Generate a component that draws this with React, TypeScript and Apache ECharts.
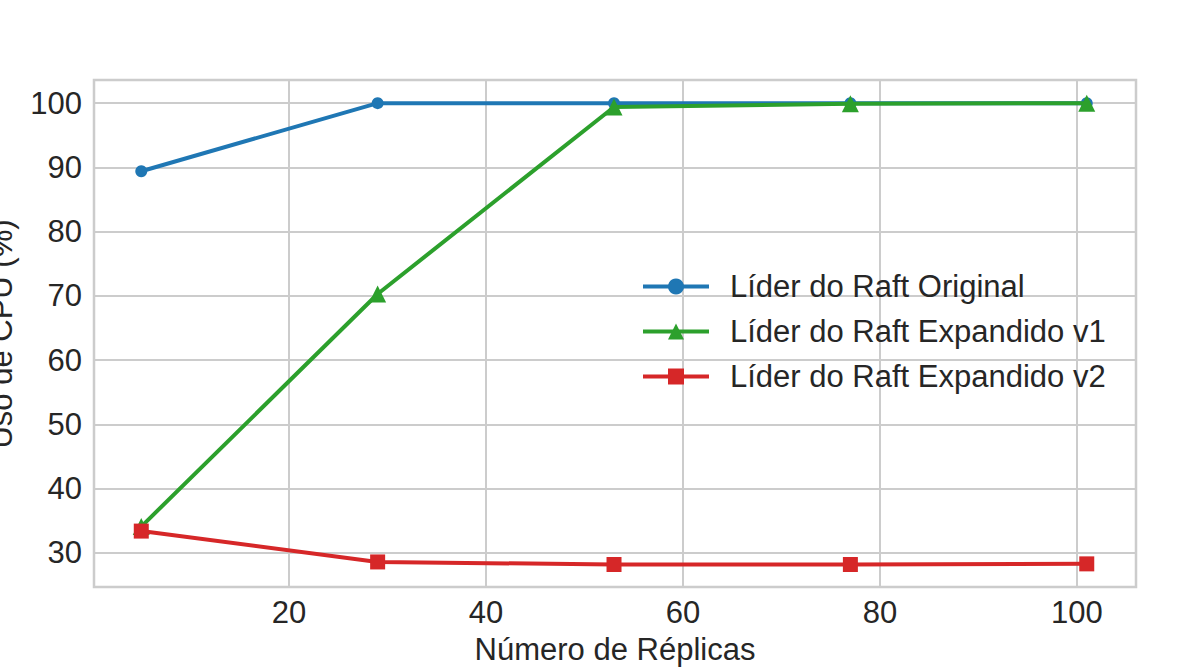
import React, { useEffect, useRef } from "react";
import * as echarts from "echarts";

const replicas = [5, 29, 53, 77, 101];
const original = [89.4, 100, 100, 100, 100];
const expandidoV1 = [34.1, 70.3, 99.4, 99.9, 100];
const expandidoV2 = [33.4, 28.6, 28.2, 28.2, 28.3];
const seriesNames = ["Líder do Raft Original", "Líder do Raft Expandido v1", "Líder do Raft Expandido v2"];
const xTicks = [20, 40, 60, 80, 100];
const yTicks = [30, 40, 50, 60, 70, 80, 90, 100];

const TEXT = "#262626";
const FONT = "'Liberation Sans', Arial, sans-serif";
const FS = 31;

export default function App() {
  const ref = useRef<HTMLDivElement>(null);
  useEffect(() => {
    if (!ref.current) return;
    const chart = echarts.init(ref.current, undefined, { renderer: "svg" });
    const pair = (ys: number[]) => replicas.map((x, i) => [x, ys[i]]);
    chart.setOption({
      animation: false,
      backgroundColor: "#ffffff",
      textStyle: { fontFamily: FONT, color: TEXT },
      grid: {
        left: 94,
        right: 60,
        top: 80,
        bottom: 85,
        show: true,
        borderColor: "#cccccc",
        borderWidth: 2.5,
        containLabel: false,
      },
      xAxis: {
        type: "value",
        min: 0.2,
        max: 106,
        name: "Número de Réplicas",
        nameLocation: "middle",
        nameGap: 47,
        nameTextStyle: { fontSize: FS, color: TEXT, fontFamily: FONT },
        axisLine: { show: false },
        axisTick: { show: false, customValues: xTicks },
        axisLabel: { customValues: xTicks, fontSize: FS, color: TEXT, margin: 10, fontFamily: FONT },
        splitLine: { show: true, lineStyle: { color: "#cccccc", width: 2 } },
      },
      yAxis: {
        type: "value",
        min: 24.7,
        max: 103.6,
        axisLine: { show: false },
        axisTick: { show: false, customValues: yTicks },
        axisLabel: { customValues: yTicks, fontSize: FS, color: TEXT, margin: 12, fontFamily: FONT },
        splitLine: { show: true, lineStyle: { color: "#cccccc", width: 2 } },
      },
      legend: {
        orient: "vertical",
        left: 636,
        top: 266,
        itemWidth: 66,
        itemHeight: 20,
        itemGap: 14,
        lineStyle: { width: 4 },
        textStyle: { fontSize: FS, color: TEXT, fontFamily: FONT, padding: [0, 0, 0, 16] },
        data: seriesNames,
      },
      graphic: [
        {
          type: "text",
          x: 1,
          y: 334,
          rotation: Math.PI / 2,
          style: {
            text: "Uso de CPU (%)",
            fontSize: FS,
            fontFamily: FONT,
            fill: TEXT,
            textAlign: "center",
            textVerticalAlign: "middle",
          },
        },
      ],
      series: [
        {
          name: seriesNames[0],
          type: "line",
          data: pair(original),
          color: "#1f77b4",
          symbol: "circle",
          symbolSize: 12,
          lineStyle: { width: 4 },
          z: 2,
        },
        {
          name: seriesNames[1],
          type: "line",
          data: pair(expandidoV1),
          color: "#2ca02c",
          symbol: "triangle",
          symbolSize: 17,
          lineStyle: { width: 4 },
          z: 3,
        },
        {
          name: seriesNames[2],
          type: "line",
          data: pair(expandidoV2),
          color: "#d62728",
          symbol: "rect",
          symbolSize: 15,
          lineStyle: { width: 4 },
          z: 4,
        },
      ],
    });
    return () => chart.dispose();
  }, []);
  return <div ref={ref} style={{ width: 1196, height: 672, position: "absolute", left: 0, top: 0 }} />;
}
